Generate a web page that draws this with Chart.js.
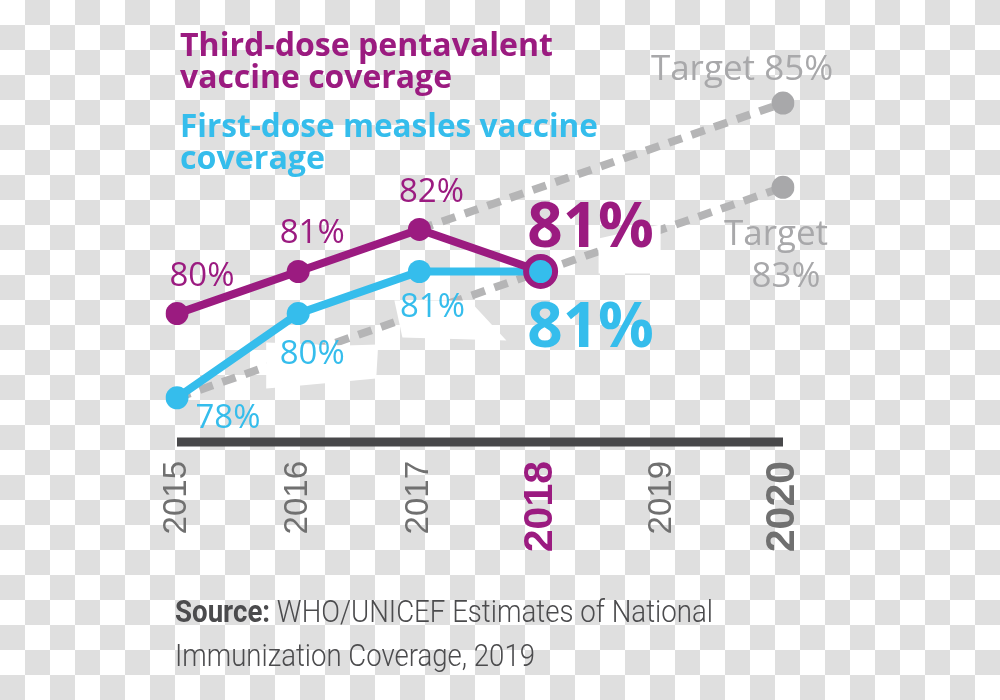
<!DOCTYPE html>
<html>
<head>
<meta charset="utf-8">
<script src="https://cdn.jsdelivr.net/npm/chart.js@4.4.0/dist/chart.umd.min.js"></script>
<style>
  html, body { margin: 0; padding: 0; }
  body {
    width: 1000px; height: 700px; overflow: hidden;
    background-color: #fff;
    background-image: conic-gradient(#dfdfdf 0 25%, #fff 0 50%, #dfdfdf 0 75%, #fff 0);
    background-size: 50px 50px;
  }
  .wrap { position: relative; width: 1000px; height: 700px; }
  canvas { position: absolute; left: 0; top: 0; }
  .line { position: absolute; white-space: nowrap; transform-origin: 0 0; }
  .title { left: 180px; font-family: "Open Sans", sans-serif; font-weight: 700; font-size: 32px; line-height: 32px; }
  .penta { color: #9b1b80; }
  .measles { color: #35bdec; }
  .source { left: 175px; font-family: "Roboto", "Liberation Sans", sans-serif; font-weight: 300; font-size: 31px; line-height: 44px; color: #4b4b4d; }
  .source b { font-weight: 700; }
</style>
</head>
<body>
<div class="wrap">
  <canvas id="coverage-chart" width="1000" height="700"></canvas>
  <div class="line title penta" style="top:28px" data-w="373">Third-dose pentavalent</div>
  <div class="line title penta" style="top:60px" data-w="272">vaccine coverage</div>
  <div class="line title measles" style="top:109px" data-w="418">First-dose measles vaccine</div>
  <div class="line title measles" style="top:141px" data-w="145">coverage</div>
  <div class="line source" style="top:590px" data-w="538"><b>Source:</b> WHO/UNICEF Estimates of National</div>
  <div class="line source" style="top:634px" data-w="360">Immunization Coverage, 2019</div>
</div>
<script>
const years = ["2015", "2016", "2017", "2018", "2019", "2020"];
const pentaCoverage = [80, 81, 82, 81, null, null];
const measlesCoverage = [78, 80, 81, 81, null, null];
const pentaTarget = [null, null, 82, null, null, 85];
const measlesTarget = [78, null, null, null, null, 83];

const purple = "#9b1b80";
const blue = "#35bdec";
const dashGrey = "#b5b5b6";
const dotGrey = "#a8a8aa";
const yearGrey = "#707070";
const axisGrey = "#48484a";

//label placement, offsets from each point in pixels: [dx, dy]
const labelOffsets = {
  0: [[25, -28], [14, -28], [12, -27], [50, -24]],
  1: [[51, 30], [14, 50], [13, 46], [50, 76]],
};
//white knockout patches behind some labels (relative to a point)
const knockouts = [
  { ds: 1, i: 1, pts: [[-32, 29], [47, 32], [80, 31], [78, 65], [-8, 73], [-32, 75]] },
  { ds: 1, i: 2, pts: [[-25, 29], [50, 29], [87, 69], [-17, 66]] },
  { ds: 0, i: 3, pts: [[58, -33], [120, -47], [120, 2], [58, 2]] },
];

const labelsPlugin = {
  id: "coverageLabels",
  beforeDatasetsDraw(chart) {
    //thick base line along the x axis
    const x = chart.scales.x;
    const ctx = chart.ctx;
    ctx.save();
    ctx.strokeStyle = axisGrey;
    ctx.lineWidth = 9;
    ctx.lineCap = "butt";
    ctx.beginPath();
    ctx.moveTo(x.left, x.top);
    ctx.lineTo(x.right, x.top);
    ctx.stroke();
    ctx.restore();
  },
  beforeDatasetDraw(chart, args) {
    if (args.index !== 1) return;
    const ctx = chart.ctx;
    ctx.save();
    ctx.fillStyle = "#ffffff";
    knockouts.forEach((k) => {
      const p = chart.getDatasetMeta(k.ds).data[k.i];
      ctx.beginPath();
      k.pts.forEach(([dx, dy], j) => {
        if (j === 0) ctx.moveTo(p.x + dx, p.y + dy);
        else ctx.lineTo(p.x + dx, p.y + dy);
      });
      ctx.closePath();
      ctx.fill();
    });
    ctx.restore();
  },
  afterDatasetsDraw(chart) {
    const ctx = chart.ctx;
    ctx.save();
    ctx.textAlign = "center";
    ctx.textBaseline = "alphabetic";
    [0, 1].forEach((dsIndex) => {
      const ds = chart.data.datasets[dsIndex];
      const meta = chart.getDatasetMeta(dsIndex);
      ds.data.forEach((v, i) => {
        if (v === null) return;
        const p = meta.data[i];
        const [dx, dy] = labelOffsets[dsIndex][i];
        ctx.fillStyle = ds.borderColor;
        ctx.font = i === 3 ? '700 62px "Open Sans"' : '400 33px "Open Sans"';
        ctx.fillText(v + "%", p.x + dx, p.y + dy);
      });
    });
    //target labels
    ctx.fillStyle = dotGrey;
    ctx.font = '400 35px "Open Sans"';
    const t85 = chart.getDatasetMeta(2).data[5];
    ctx.fillText("Target " + pentaTarget[5] + "%", t85.x - 41, t85.y - 23);
    const t83 = chart.getDatasetMeta(3).data[5];
    ctx.fillText("Target", t83.x - 7, t83.y + 58);
    ctx.fillText(measlesTarget[5] + "%", t83.x + 3, t83.y + 100);
    ctx.restore();
  },
};

const ctx = document.getElementById("coverage-chart").getContext("2d");
const coverageChart = new Chart(ctx, {
  type: "line",
  data: {
    labels: years,
    datasets: [
      {
        label: "Third-dose pentavalent vaccine coverage",
        data: pentaCoverage,
        borderColor: purple,
        borderWidth: 8,
        pointRadius: (c) => (c.dataIndex === 3 ? 14.5 : 11.5),
        pointBackgroundColor: (c) => (c.dataIndex === 3 ? blue : purple),
        pointBorderColor: purple,
        pointBorderWidth: (c) => (c.dataIndex === 3 ? 6 : 0),
      },
      {
        label: "First-dose measles vaccine coverage",
        data: measlesCoverage,
        borderColor: blue,
        borderWidth: 8,
        pointRadius: 11.5,
        pointBackgroundColor: blue,
        pointBorderWidth: 0,
      },
      {
        label: "Target 85%",
        data: pentaTarget,
        spanGaps: true,
        borderColor: dashGrey,
        borderWidth: 8,
        borderDash: [14, 10],
        borderCapStyle: "butt",
        pointRadius: (c) => (c.dataIndex === 5 ? 11.5 : 0),
        pointBackgroundColor: dotGrey,
        pointBorderWidth: 0,
      },
      {
        label: "Target 83%",
        data: measlesTarget,
        spanGaps: true,
        borderColor: dashGrey,
        borderWidth: 8,
        borderDash: [14, 10],
        borderCapStyle: "butt",
        pointRadius: (c) => (c.dataIndex === 5 ? 11.5 : 0),
        pointBackgroundColor: dotGrey,
        pointBorderWidth: 0,
      },
    ],
  },
  options: {
    responsive: false,
    animation: false,
    devicePixelRatio: 1,
    layout: { padding: { left: 177, right: 217, top: 61, bottom: 108 } },
    elements: { line: { tension: 0 } },
    scales: {
      x: {
        type: "category",
        offset: false,
        grid: { display: false, drawTicks: false },
        border: { display: false },
        ticks: {
          autoSkip: false,
          minRotation: 90,
          maxRotation: 90,
          padding: 19,
          color: (c) => (c.index === 3 ? purple : yearGrey),
          font: (c) =>
            c.index === 3 || c.index === 5
              ? { family: "Liberation Sans", size: 41, weight: "bold" }
              : { family: "Liberation Sans", size: 33, weight: "normal" },
        },
        afterFit: (scale) => {
          scale.height = 150;
        },
      },
      y: { display: false, min: 76.95, max: 86 },
    },
    plugins: {
      legend: { display: false },
      tooltip: { enabled: false },
    },
  },
  plugins: [labelsPlugin],
});

//squeeze/stretch text lines to the widths in the picture
document.fonts.ready.then(() => {
  document.querySelectorAll(".line").forEach((el) => {
    const w = el.getBoundingClientRect().width;
    el.style.transform = "scaleX(" + el.dataset.w / w + ")";
  });
});
</script>
</body>
</html>
